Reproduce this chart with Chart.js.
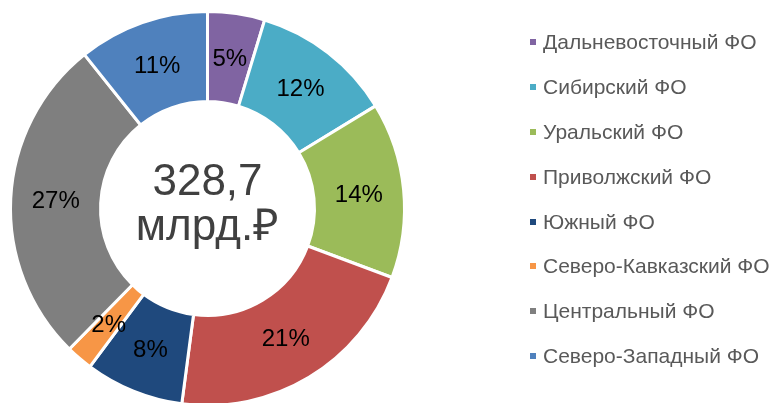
<!DOCTYPE html>
<html>
<head>
<meta charset="utf-8">
<title>Распределение по федеральным округам</title>
<script src="https://cdn.jsdelivr.net/npm/chart.js@4.4.0/dist/chart.umd.min.js"></script>
<style>
    html, body { margin: 0; padding: 0; background: #fff; overflow: hidden; }
    #wrap { position: relative; width: 775px; height: 403px; overflow: hidden; }
    #chart-area { position: absolute; left: 0; top: 0; }
    #legend {
        position: absolute; left: 530px; top: 19.5px;
        margin: 0; padding: 0; list-style: none;
        font-family: "Liberation Sans", Arial, sans-serif;
        font-size: 21px; color: #595959;
    }
    #legend li { display: flex; align-items: center; height: 44.9px; white-space: nowrap; }
    #legend .box { width: 6px; height: 6px; margin-right: 7px; flex: none; }
</style>
</head>
<body>
<div id="wrap">
    <canvas id="chart-area" width="775" height="430"></canvas>
    <ul id="legend"></ul>
</div>
<script>
var districts = [
    'Дальневосточный ФО',
    'Сибирский ФО',
    'Уральский ФО',
    'Приволжский ФО',
    'Южный ФО',
    'Северо-Кавказский ФО',
    'Центральный ФО',
    'Северо-Западный ФО'
];
// млрд руб.
var amounts = [15.4, 38.1, 47.4, 70.3, 26.6, 7.2, 88.4, 35.3];
var colors = ['#8064A2', '#4BACC6', '#9BBB59', '#C0504D', '#1F497D', '#F79646', '#7F7F7F', '#4F81BD'];
var unitLabel = 'млрд.₽';

function total(values) {
    var s = 0;
    for (var i = 0; i < values.length; i++) s += values[i];
    return s;
}

// проценты на секторах
var percentLabels = {
    id: 'percentLabels',
    afterDatasetsDraw: function(chart) {
        var ctx = chart.ctx;
        var meta = chart.getDatasetMeta(0);
        var sum = total(chart.data.datasets[0].data);
        ctx.save();
        ctx.font = '24px "Liberation Sans", Arial, sans-serif';
        ctx.fillStyle = '#000';
        ctx.textAlign = 'center';
        ctx.textBaseline = 'middle';
        meta.data.forEach(function(arc, i) {
            var pos = arc.tooltipPosition();
            var pct = Math.round(chart.data.datasets[0].data[i] / sum * 100);
            ctx.fillText(pct + '%', pos.x, pos.y + 1);
        });
        ctx.restore();
    }
};

// итог в центре
var centerText = {
    id: 'centerText',
    afterDraw: function(chart) {
        var ctx = chart.ctx;
        var arc = chart.getDatasetMeta(0).data[0];
        var sum = total(chart.data.datasets[0].data).toFixed(1).replace('.', ',');
        ctx.save();
        ctx.font = '44px "Liberation Sans", Arial, sans-serif';
        ctx.fillStyle = '#404040';
        ctx.textAlign = 'center';
        ctx.textBaseline = 'alphabetic';
        ctx.fillText(sum, arc.x, arc.y - 13.5);
        ctx.fillText(unitLabel, arc.x, arc.y + 31.5);
        ctx.restore();
    }
};

var ctx = document.getElementById('chart-area').getContext('2d');
var chart = new Chart(ctx, {
    type: 'doughnut',
    data: {
        labels: districts,
        datasets: [{
            data: amounts,
            backgroundColor: colors,
            borderColor: '#fff',
            borderWidth: 3,
            hoverOffset: 0
        }]
    },
    options: {
        responsive: false,
        animation: false,
        radius: 197,
        cutout: '54.3%',
        layout: {
            padding: { left: 7.5, top: 8.5, right: 367.5, bottom: 21.5 }
        },
        plugins: {
            legend: { display: false },
            tooltip: { enabled: false }
        }
    },
    plugins: [percentLabels, centerText]
});

// легенда справа
var items = Chart.overrides.doughnut.plugins.legend.labels.generateLabels(chart);
var list = document.getElementById('legend');
items.forEach(function(item) {
    var li = document.createElement('li');
    var box = document.createElement('span');
    box.className = 'box';
    box.style.background = item.fillStyle;
    li.appendChild(box);
    li.appendChild(document.createTextNode(item.text));
    list.appendChild(li);
});
</script>
</body>
</html>
